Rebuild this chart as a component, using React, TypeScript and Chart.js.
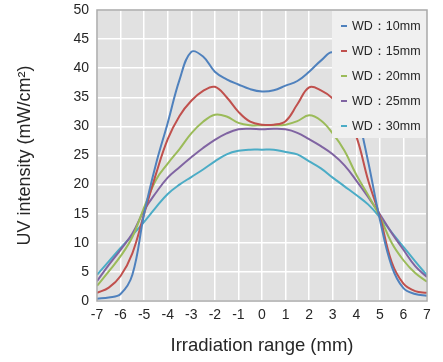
import { useEffect, useRef } from 'react';
import { Chart, registerables } from 'chart.js';

Chart.register(...registerables);

const xPositions = [
  -7, -6.5, -6, -5.5, -5, -4.5, -4, -3.5, -3, -2.5, -2, -1.5, -1, -0.5, 0,
  0.5, 1, 1.5, 2, 2.5, 3, 3.5, 4, 4.5, 5, 5.5, 6, 6.5, 7,
];

const wd10 = [
  0.4, 0.6, 1.2, 4.5, 15, 23.5, 30.6, 38, 42.8, 42, 39.4, 38.1, 37.2, 36.4, 36.0,
  36.2, 37.0, 37.8, 39.4, 41.3, 42.7, 39.5, 33, 24, 14, 6, 2.2, 1.2, 0.9,
];
const wd15 = [
  1.4, 2.3, 4.3, 8.2, 15, 21.8, 27.8, 31.8, 34.4, 36.1, 36.8, 35.0, 32.5, 30.8, 30.3,
  30.3, 30.9, 33.8, 36.7, 36.2, 34.8, 32.3, 28.3, 20.8, 14.5, 6.7, 3, 1.7, 1.4,
];
const wd20 = [
  2.6, 5.1, 7.7, 11, 16.1, 20.8, 23.6, 26.1, 28.8, 30.8, 32.0, 31.7, 30.6, 30.2, 30.2,
  30.2, 30.3, 30.9, 31.9, 31.0, 28.8, 25.8, 21.7, 18.2, 14.5, 10, 7, 4.8, 3.3,
];
const wd25 = [
  3.4, 6.2, 8.8, 11.6, 15.6, 18.6, 21.2, 23.0, 24.7, 26.3, 27.7, 28.8, 29.5, 29.6, 29.5,
  29.6, 29.5, 28.9, 27.8, 26.6, 25.2, 23.3, 20.7, 17.9, 14.9, 11.7, 8.8, 6, 4.1,
];
const wd30 = [
  4.5, 6.8, 9.1, 11.3, 13.6, 16.1, 18.4, 20, 21.3, 22.6, 24, 25.2, 25.8, 26, 26,
  26, 25.6, 25.2, 24, 22.8, 21.2, 19.7, 18.2, 16.6, 14.4, 11.8, 9.3, 6.8, 4.4,
];

const seriesLabels = ['WD：10mm', 'WD：15mm', 'WD：20mm', 'WD：25mm', 'WD：30mm'];
const seriesValues = [wd10, wd15, wd20, wd25, wd30];
const seriesColors = ['#4F81BD', '#C0504D', '#9BBB59', '#8064A2', '#4BACC6'];

const xTitle = 'Irradiation range (mm)';
const yTitle = 'UV intensity (mW/cm²)';

const FONT = "'Liberation Sans', Arial, sans-serif";
const TEXT = '#262626';

const plotFrame = {
  id: 'plotFrame',
  beforeDraw(chart: any) {
    const { ctx, chartArea: a } = chart;
    ctx.save();
    ctx.fillStyle = '#e1e1e1';
    ctx.fillRect(a.left, a.top, a.right - a.left, a.bottom - a.top);
    ctx.restore();
  },
  afterDatasetsDraw(chart: any) {
    const { ctx, chartArea: a } = chart;
    // legend box inside the plot, top right
    const boxW = 95;
    const boxH = 128;
    const bx = a.right - boxW;
    const by = a.top;
    ctx.save();
    ctx.fillStyle = '#f0f0f0';
    ctx.fillRect(bx, by, boxW, boxH);
    ctx.font = `12.5px ${FONT}`;
    ctx.textBaseline = 'middle';
    ctx.textAlign = 'left';
    chart.data.datasets.forEach((ds: any, i: number) => {
      const cy = by + 16 + i * 25;
      ctx.strokeStyle = ds.borderColor;
      ctx.lineWidth = 2;
      ctx.beginPath();
      ctx.moveTo(bx + 9, cy);
      ctx.lineTo(bx + 15, cy);
      ctx.stroke();
      ctx.fillStyle = TEXT;
      ctx.fillText(ds.label, bx + 20, cy + 0.5);
    });
    // plot border
    ctx.strokeStyle = '#a9a9a9';
    ctx.lineWidth = 1.5;
    ctx.strokeRect(a.left, a.top, a.right - a.left, a.bottom - a.top);
    ctx.restore();
  },
};

export default function App() {
  const ref = useRef<HTMLCanvasElement | null>(null);

  useEffect(() => {
    if (!ref.current) return;
    const chart = new Chart(ref.current, {
      type: 'line',
      data: {
        datasets: seriesValues.map((vals, i) => ({
          label: seriesLabels[i],
          data: xPositions.map((x, j) => ({ x, y: vals[j] })),
          borderColor: seriesColors[i],
          backgroundColor: seriesColors[i],
          borderWidth: 2,
          pointRadius: 0,
          tension: 0.4,
          fill: false,
        })),
      },
      options: {
        animation: false,
        responsive: false,
        devicePixelRatio: 1,
        layout: { padding: { left: 0, right: 16, top: 10, bottom: 0 } },
        plugins: {
          legend: { display: false },
          tooltip: { enabled: false },
        },
        scales: {
          x: {
            type: 'linear',
            min: -7,
            max: 7,
            afterFit(scale: any) {
              scale.height = 61;
              scale.paddingLeft = 0;
              scale.paddingRight = 0;
            },
            ticks: {
              stepSize: 1,
              padding: 6,
              color: TEXT,
              font: { family: FONT, size: 14 },
              maxRotation: 0,
            },
            grid: { color: '#ffffff', lineWidth: 1.5, drawTicks: false },
            border: { display: false },
            title: {
              display: true,
              text: xTitle,
              color: TEXT,
              font: { family: FONT, size: 18.5 },
              padding: { top: 0, bottom: 5 },
            },
          },
          y: {
            min: 0,
            max: 50,
            afterFit(scale: any) {
              scale.width = 97;
              scale.paddingTop = 0;
              scale.paddingBottom = 0;
            },
            ticks: {
              stepSize: 5,
              padding: 8,
              color: TEXT,
              font: { family: FONT, size: 14 },
            },
            grid: { color: '#ffffff', lineWidth: 1.5, drawTicks: false },
            border: { display: false },
            title: {
              display: true,
              text: yTitle,
              color: TEXT,
              font: { family: FONT, size: 18 },
              padding: { top: 14, bottom: 0 },
            },
          },
        },
      },
      plugins: [plotFrame],
    });
    return () => chart.destroy();
  }, []);

  return (
    <div style={{ position: 'absolute', left: 0, top: 0, width: 443, height: 362 }}>
      <canvas ref={ref} width={443} height={362} />
    </div>
  );
}
